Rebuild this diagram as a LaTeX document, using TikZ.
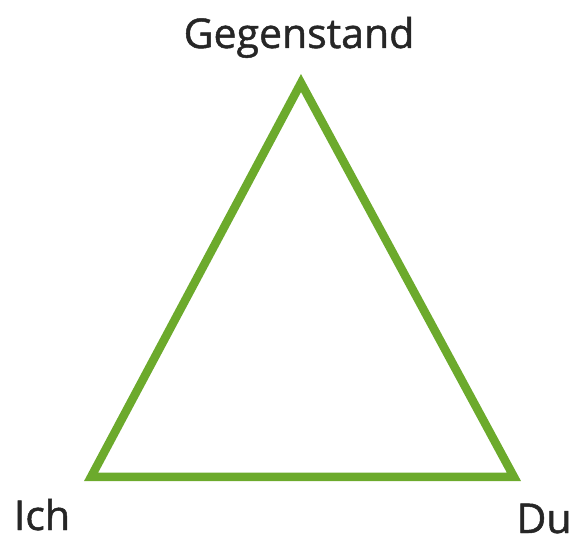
\documentclass[tikz,border=0pt]{standalone}
\usepackage{fontspec}
\setmainfont{Open Sans}
\newfontfamily\lblfont{Open Sans}[FakeBold=1.2]
\definecolor{tgreen}{RGB}{108,170,44}
\tikzset{lbl/.style={anchor=base,inner sep=0pt,font=\lblfont\fontsize{41}{48}\selectfont,text=black!85},
  tri/.style={draw=tgreen,line width=8.5pt,line join=miter}}
\begin{document}
\begin{tikzpicture}[x=1pt,y=-1pt]
\useasboundingbox (0,0) rectangle (571,537);
\coordinate (A) at (301,83);
\coordinate (B) at (91,477);
\coordinate (C) at (514,477);
\draw[tri] (A) -- (B) -- (C) -- cycle;
\node[lbl] (g) at (299,48) {Gegenstand};
\node[lbl] (i) at (42,530) {Ich};
\node[lbl] (d) at (544,533) {Du};
\end{tikzpicture}
\end{document}
